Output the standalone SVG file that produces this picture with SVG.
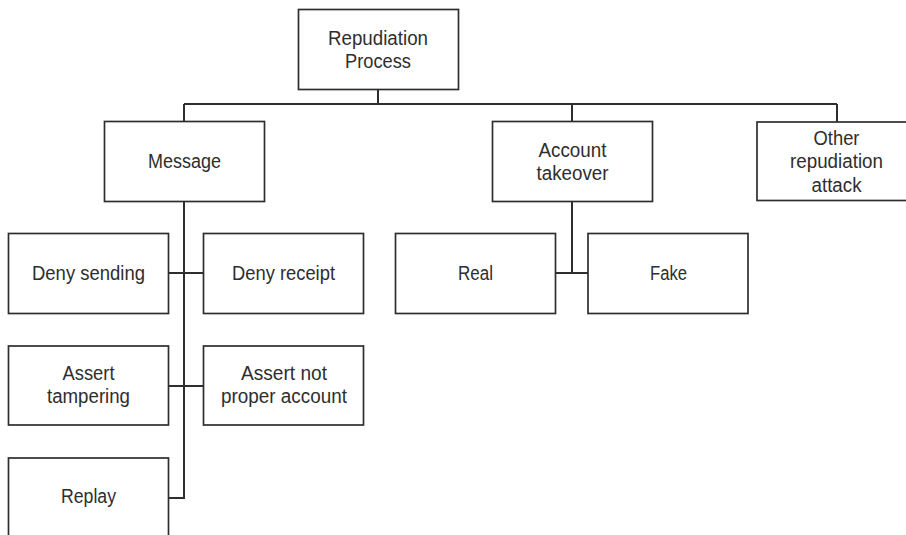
<svg xmlns="http://www.w3.org/2000/svg" width="906" height="535" viewBox="0 0 906 535">
  <style>
    .box { fill: #ffffff; stroke: #2e2e2e; stroke-width: 1.7; }
    .lbl { font-family: "Liberation Sans", Arial, sans-serif; font-size: 20px; fill: #2e2e2e; text-anchor: middle; }
    .wire { fill: none; stroke: #2e2e2e; stroke-width: 2; }
  </style>
  <rect x="0" y="0" width="906" height="535" fill="#ffffff"/>
  <g id="connectors">
    <path class="wire" d="M378,89 V104 M184,104 H837 M184,104 V121 M572,104 V121 M837,104 V122"/>
    <path class="wire" d="M184,201 V498 H169 M169,273 H203 M169,386 H203"/>
    <path class="wire" d="M572,201 V273 M556,273 H588"/>
  </g>
  <g id="root">
    <rect class="box" x="298.5" y="9.5" width="160" height="80"/>
    <text class="lbl" x="378" y="45" textLength="100" lengthAdjust="spacingAndGlyphs">Repudiation</text>
    <text class="lbl" x="378" y="68" textLength="66" lengthAdjust="spacingAndGlyphs">Process</text>
  </g>
  <g id="message">
    <rect class="box" x="104.5" y="121.5" width="160" height="80"/>
    <text class="lbl" x="184.5" y="168" textLength="73" lengthAdjust="spacingAndGlyphs">Message</text>
  </g>
  <g id="account-takeover">
    <rect class="box" x="492.5" y="121.5" width="160" height="80"/>
    <text class="lbl" x="572.5" y="157" textLength="68" lengthAdjust="spacingAndGlyphs">Account</text>
    <text class="lbl" x="572.5" y="180" textLength="72" lengthAdjust="spacingAndGlyphs">takeover</text>
  </g>
  <g id="other">
    <rect class="box" x="757" y="122" width="160" height="78.5"/>
    <text class="lbl" x="836.5" y="145" textLength="46" lengthAdjust="spacingAndGlyphs">Other</text>
    <text class="lbl" x="836.5" y="168" textLength="93" lengthAdjust="spacingAndGlyphs">repudiation</text>
    <text class="lbl" x="836.5" y="192" textLength="50" lengthAdjust="spacingAndGlyphs">attack</text>
  </g>
  <g id="deny-sending">
    <rect class="box" x="8.5" y="233.5" width="160" height="80"/>
    <text class="lbl" x="88.5" y="280" textLength="113" lengthAdjust="spacingAndGlyphs">Deny sending</text>
  </g>
  <g id="deny-receipt">
    <rect class="box" x="203.5" y="233.5" width="160" height="80"/>
    <text class="lbl" x="283.5" y="280" textLength="103" lengthAdjust="spacingAndGlyphs">Deny receipt</text>
  </g>
  <g id="assert-tampering">
    <rect class="box" x="8.5" y="346" width="160" height="79"/>
    <text class="lbl" x="88.5" y="380" textLength="52" lengthAdjust="spacingAndGlyphs">Assert</text>
    <text class="lbl" x="88.5" y="403" textLength="83" lengthAdjust="spacingAndGlyphs">tampering</text>
  </g>
  <g id="assert-not-proper">
    <rect class="box" x="203.5" y="346" width="160" height="79"/>
    <text class="lbl" x="284" y="380" textLength="86" lengthAdjust="spacingAndGlyphs">Assert not</text>
    <text class="lbl" x="284" y="403" textLength="126" lengthAdjust="spacingAndGlyphs">proper account</text>
  </g>
  <g id="replay">
    <rect class="box" x="8.5" y="458" width="160" height="90"/>
    <text class="lbl" x="88.5" y="503" textLength="55" lengthAdjust="spacingAndGlyphs">Replay</text>
  </g>
  <g id="real">
    <rect class="box" x="395.5" y="233.5" width="160" height="80"/>
    <text class="lbl" x="475.5" y="280" textLength="35" lengthAdjust="spacingAndGlyphs">Real</text>
  </g>
  <g id="fake">
    <rect class="box" x="588" y="233.5" width="160" height="80"/>
    <text class="lbl" x="668.5" y="280" textLength="37" lengthAdjust="spacingAndGlyphs">Fake</text>
  </g>
</svg>
